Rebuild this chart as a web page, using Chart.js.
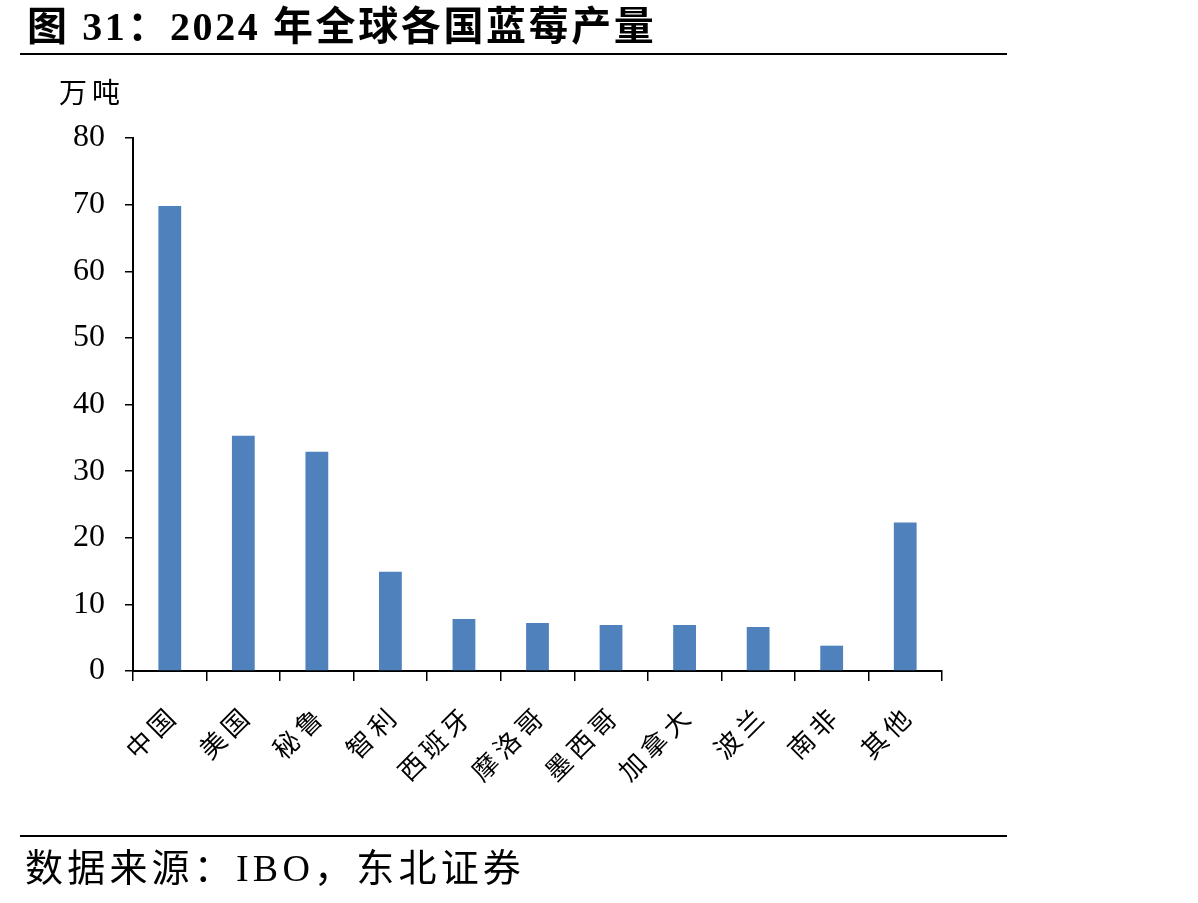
<!DOCTYPE html>
<html>
<head>
<meta charset="utf-8">
<script src="https://cdn.jsdelivr.net/npm/chart.js@4.4.1/dist/chart.umd.min.js"></script>
<style>
  html, body { margin: 0; padding: 0; background: #ffffff; }
  body { width: 1198px; height: 903px; position: relative; overflow: hidden; }
  #title { position: absolute; left: 27px; top: 2px; font-family: "Liberation Serif", "Noto Sans CJK SC", serif; font-weight: bold; font-size: 40px; line-height: 50px; color: #000; white-space: nowrap; letter-spacing: 2.6px; }
  #topline { position: absolute; left: 20px; top: 53px; width: 987px; height: 2px; background: #000; }
  #unit { position: absolute; left: 59px; top: 73px; font-family: "Noto Sans CJK SC", sans-serif; font-size: 28px; line-height: 36px; color: #000; letter-spacing: 5px; }
  #botline { position: absolute; left: 20px; top: 835px; width: 987px; height: 2px; background: #000; }
  #source { position: absolute; left: 25px; top: 845px; font-family: "Liberation Serif", "Noto Sans CJK SC", serif; font-size: 38px; line-height: 46px; color: #000; white-space: nowrap; letter-spacing: 4.2px; }
  #wrap { position: absolute; left: 0; top: 0; width: 1198px; height: 903px; }
</style>
</head>
<body>
<div id="wrap"><canvas id="c" width="1198" height="903"></canvas></div>
<div id="title">图 31：2024 年全球各国蓝莓产量</div>
<div id="topline"></div>
<div id="unit">万吨</div>
<div id="botline"></div>
<div id="source">数据来源：IBO，东北证券</div>
<script>
const categories = ["中国", "美国", "秘鲁", "智利", "西班牙", "摩洛哥", "墨西哥", "加拿大", "波兰", "南非", "其他"];
const production = [69.8, 35.3, 32.9, 14.9, 7.8, 7.2, 6.9, 6.9, 6.6, 3.8, 22.3];
const yTicks = [0, 10, 20, 30, 40, 50, 60, 70, 80];

Chart.defaults.animation = false;

// Adds character spacing to the x-axis category labels only
const spacingPlugin = {
  id: 'labelSpacing',
  afterLayout(chart) {
    const s = chart.scales.x;
    if (s && !s._spaced) {
      const orig = s.drawLabels.bind(s);
      s.drawLabels = function (chartArea) {
        const ctx = this.ctx;
        ctx.save();
        ctx.letterSpacing = '5px';
        orig(chartArea);
        ctx.restore();
      };
      s._spaced = true;
    }
  }
};

new Chart(document.getElementById('c'), {
  type: 'bar',
  data: {
    labels: categories,
    datasets: [{
      data: production,
      backgroundColor: '#4F81BD',
      borderWidth: 0,
      barPercentage: 0.31,
      categoryPercentage: 1.0
    }]
  },
  plugins: [spacingPlugin],
  options: {
    responsive: false,
    maintainAspectRatio: false,
    animation: false,
    layout: { padding: { left: 0, right: 256, top: 138, bottom: 0 } },
    plugins: { legend: { display: false }, tooltip: { enabled: false }, title: { display: false } },
    scales: {
      x: {
        grid: { display: true, drawOnChartArea: false, drawTicks: true, tickLength: 10, color: '#000', lineWidth: 1.5, offset: true },
        border: { display: true, color: '#000', width: 2 },
        ticks: {
          color: '#000',
          font: { family: '"Noto Sans CJK SC", sans-serif', size: 26 },
          maxRotation: 45, minRotation: 45,
          padding: 18,
          labelOffset: 4,
          autoSkip: false
        },
        afterFit: (scale) => { scale.height = 232; }
      },
      y: {
        min: 0, max: 80,
        afterBuildTicks: (scale) => { scale.ticks = yTicks.map(v => ({ value: v })); },
        grid: { display: true, drawOnChartArea: false, drawTicks: true, tickLength: 8, color: '#000', lineWidth: 1.5 },
        border: { display: true, color: '#000', width: 2 },
        ticks: {
          color: '#000',
          font: { family: '"Liberation Serif", serif', size: 32 },
          padding: 20
        },
        afterFit: (scale) => { scale.width = 133; }
      }
    }
  }
});
</script>
</body>
</html>
